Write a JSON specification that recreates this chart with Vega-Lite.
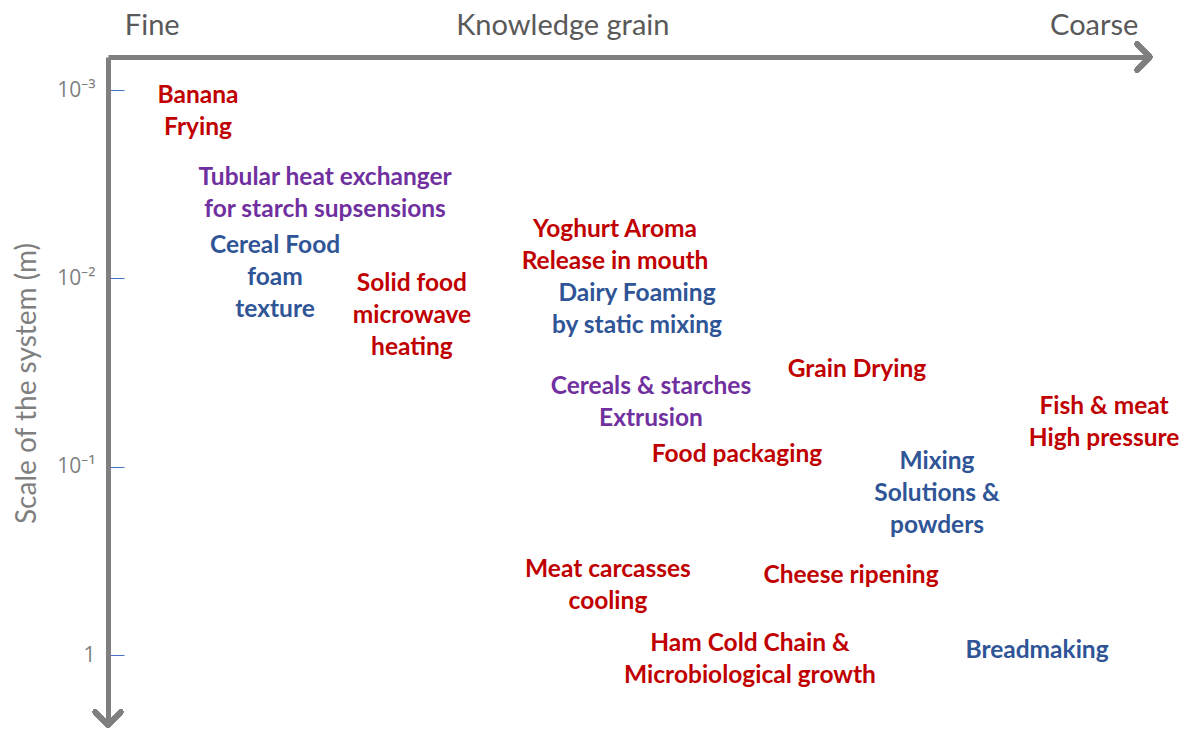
{
  "$schema": "https://vega.github.io/schema/vega-lite/v6.json",
  "width": 1042,
  "height": 668,
  "autosize": {"type": "none"},
  "padding": {"left": 108, "top": 57, "right": 38, "bottom": 4},
  "background": "white",
  "config": {"view": {"stroke": null}},
  "data": {
    "values": [
      {"label": "Banana\nFrying", "grain": 8.64, "scale": 0.001076, "group": "red"},
      {"label": "Tubular heat exchanger\nfor starch supsensions", "grain": 20.83, "scale": 0.002933, "group": "purple"},
      {"label": "Cereal Food\nfoam\ntexture", "grain": 16.03, "scale": 0.006735, "group": "blue"},
      {"label": "Solid food\nmicrowave\nheating", "grain": 29.17, "scale": 0.01072, "group": "red"},
      {"label": "Yoghurt Aroma\nRelease in mouth", "grain": 48.66, "scale": 0.005538, "group": "red"},
      {"label": "Dairy Foaming\nby static mixing", "grain": 50.77, "scale": 0.01212, "group": "blue"},
      {"label": "Cereals & starches\nExtrusion", "grain": 52.11, "scale": 0.03776, "group": "purple"},
      {"label": "Grain Drying", "grain": 71.88, "scale": 0.0307, "group": "red"},
      {"label": "Fish & meat\nHigh pressure", "grain": 95.59, "scale": 0.04822, "group": "red"},
      {"label": "Food packaging", "grain": 60.36, "scale": 0.0867, "group": "red"},
      {"label": "Mixing\nSolutions &\npowders", "grain": 79.56, "scale": 0.09447, "group": "blue"},
      {"label": "Meat carcasses\ncooling", "grain": 47.98, "scale": 0.3537, "group": "red"},
      {"label": "Cheese ripening", "grain": 71.31, "scale": 0.381, "group": "red"},
      {"label": "Ham Cold Chain &\nMicrobiological growth", "grain": 61.61, "scale": 0.874, "group": "red"},
      {"label": "Breadmaking", "grain": 89.16, "scale": 0.953, "group": "blue"}
    ]
  },
  "layer": [
    {
      "mark": {"type": "text", "font": "Lato", "fontWeight": "bold", "fontSize": 24.5, "lineBreak": "\n", "lineHeight": 32, "align": "center", "baseline": "middle"},
      "encoding": {
        "x": {
          "field": "grain", "type": "quantitative",
          "scale": {"domain": [0, 100], "nice": false, "zero": false},
          "axis": {
            "orient": "top", "title": null, "grid": false, "ticks": false,
            "values": [4.2, 43.6, 94.6],
            "labelExpr": "datum.value < 10 ? 'Fine' : (datum.value < 50 ? 'Knowledge grain' : 'Coarse')",
            "labelFont": "Lato", "labelFontSize": 29, "labelColor": "#595959",
            "labelPadding": 17, "labelAlign": "center", "labelLimit": 0, "labelOverlap": false,
            "domainColor": "#7f7f7f", "domainWidth": 5
          }
        },
        "y": {
          "field": "scale", "type": "quantitative",
          "scale": {"type": "log", "domain": [0.000668, 2.353], "reverse": true, "nice": false},
          "axis": {
            "title": "Scale of the system (m)", "titleFont": "Lato", "titleFontSize": 28, "titleFontWeight": "normal", "titleColor": "#7f7f7f",
            "titleX": -81, "titleY": 326, "titleAngle": -90, "titleAlign": "center", "titleBaseline": "middle",
            "grid": false,
            "values": [0.001, 0.01, 0.1, 1],
            "labelExpr": "datum.value == 1 ? '1' : (datum.value == 0.1 ? '10⁻¹' : (datum.value == 0.01 ? '10⁻²' : '10⁻³'))",
            "labelFont": "Open Sans", "labelFontSize": 21, "labelColor": "#7f7f7f", "labelPadding": 29, "labelLimit": 0,
            "tickColor": "#4472C4", "tickSize": -16, "tickWidth": 1,
            "domainColor": "#7f7f7f", "domainWidth": 5
          }
        },
        "text": {"field": "label"},
        "color": {
          "field": "group", "type": "nominal",
          "scale": {"domain": ["red", "purple", "blue"], "range": ["#C00000", "#7030A0", "#2F5597"]},
          "legend": null
        }
      }
    },
    {
      "mark": {"type": "point", "shape": "M -1 -1 L 0 0 L -1 1", "filled": false, "stroke": "#7f7f7f", "strokeWidth": 5, "strokeCap": "round", "strokeJoin": "round", "size": 676, "opacity": 1},
      "encoding": {"x": {"datum": 100}, "y": {"datum": 0.000668}}
    },
    {
      "mark": {"type": "point", "shape": "M -1 -1 L 0 0 L 1 -1", "filled": false, "stroke": "#7f7f7f", "strokeWidth": 5, "strokeCap": "round", "strokeJoin": "round", "size": 676, "opacity": 1},
      "encoding": {"x": {"datum": 0}, "y": {"datum": 2.353}}
    }
  ]
}
